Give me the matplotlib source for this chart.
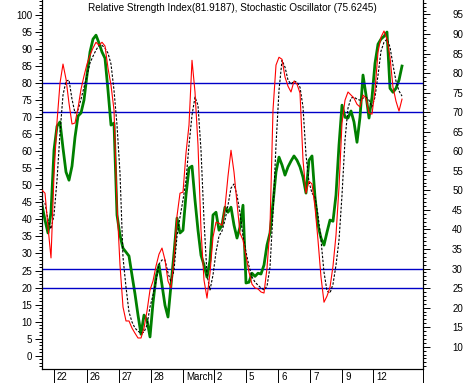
import matplotlib
matplotlib.use("Agg")
import matplotlib.pyplot as plt
from matplotlib.transforms import offset_copy
from matplotlib.ticker import MultipleLocator
import numpy as np

# RSI (right scale)
rsi = [46.2, 42.4, 39.1, 44.4, 60.3, 66.4, 67.5, 60.8, 54.7, 52.6,
       56.2, 63.6, 69.0, 69.8, 73.1, 79.5, 85.4, 88.7, 89.7, 87.7,
       85.4, 83.8, 75.6, 66.7, 67.2, 43.7, 38.5, 35.2, 34.2, 33.2,
       28.3, 23.5, 18.1, 13.2, 18.1, 16.8, 12.5, 21.2, 27.8, 30.9,
       25.8, 20.6, 17.6, 25.8, 33.9, 42.9, 39.1, 39.8, 48.8, 55.7,
       56.2, 47.5, 39.8, 33.4, 30.9, 27.8, 32.1, 43.7, 44.4, 39.8,
       41.1, 45.7, 44.4, 45.7, 41.1, 37.8, 40.6, 46.2, 26.3, 26.5,
       28.8, 28.0, 28.8, 28.6, 30.9, 36.0, 39.1, 46.7, 54.7, 58.5,
       56.5, 53.9, 56.0, 57.5, 58.8, 57.7, 56.0, 53.4, 49.3, 57.7,
       58.8, 48.3, 41.1, 37.8, 36.0, 39.3, 42.4, 42.1, 48.8, 61.6,
       71.8, 68.7, 68.5, 70.3, 67.5, 62.3, 68.7, 79.5, 74.4, 68.5,
       73.8, 82.5, 87.4, 88.7, 89.4, 90.5, 76.1, 75.1, 76.1, 78.2,
       81.8]

# stochastic %K (left scale)
stoch_k = [48.6, 47.7, 37.8, 28.7, 53.0, 68.6, 80.0, 85.6, 81.2, 74.1,
           68.0, 68.3, 72.7, 78.2, 82.1, 85.6, 88.2, 90.3, 92.0, 91.1,
           92.0, 90.9, 84.4, 79.4, 72.1, 44.2, 26.6, 14.3, 10.2, 10.2,
           8.1, 6.6, 5.2, 5.2, 8.1, 13.1, 19.3, 21.9, 26.3, 29.8,
           31.6, 28.1, 21.9, 19.9, 28.7, 41.0, 47.7, 48.0, 59.5, 67.7,
           86.7, 77.4, 61.8, 36.9, 22.2, 16.9, 24.3, 34.8, 39.2, 38.9,
           38.3, 43.6, 52.7, 60.3, 53.9, 44.8, 36.0, 33.9, 29.2, 24.5,
           21.0, 19.9, 19.6, 18.7, 18.4, 25.7, 37.8, 72.1, 85.3, 87.6,
           87.0, 81.8, 79.1, 77.4, 80.6, 79.7, 77.1, 57.4, 47.7, 51.2,
           50.4, 43.6, 33.9, 23.1, 15.7, 17.5, 20.1, 26.3, 35.4, 49.5,
           68.3, 75.0, 77.4, 76.5, 75.6, 73.8, 73.0, 76.5, 75.6, 71.2,
           70.9, 77.9, 89.1, 93.5, 95.3, 92.9, 87.6, 78.8, 74.7, 71.8,
           75.3]

# stochastic %D (left scale)
stoch_d = [45.7, 44.8, 39.8, 37.2, 41.3, 51.5, 65.3, 76.5, 80.6, 80.9,
           75.3, 71.2, 72.1, 75.3, 78.8, 82.3, 85.9, 87.9, 89.7, 91.1,
           91.1, 90.3, 88.8, 85.6, 77.9, 67.7, 53.6, 28.9, 20.1, 12.8,
           9.9, 8.1, 7.2, 6.6, 6.9, 9.0, 14.3, 17.8, 21.9, 26.9,
           28.1, 28.1, 24.3, 21.6, 25.1, 35.1, 40.7, 45.7, 51.5, 61.8,
           70.6, 75.9, 73.5, 60.3, 39.8, 23.7, 19.3, 23.7, 30.4, 35.1,
           36.6, 39.8, 44.2, 49.2, 50.4, 47.1, 41.9, 35.1, 30.4, 26.3,
           23.1, 21.6, 20.7, 19.9, 19.3, 20.4, 26.0, 41.9, 61.8, 77.9,
           86.7, 84.7, 80.9, 79.7, 80.6, 80.3, 78.8, 73.0, 58.9, 51.0,
           47.7, 46.6, 41.3, 33.9, 24.5, 19.0, 18.4, 21.0, 26.6, 33.9,
           47.1, 63.3, 72.7, 75.6, 75.9, 75.3, 75.0, 75.6, 75.9, 75.0,
           73.0, 75.9, 82.3, 89.4, 92.0, 92.9, 90.6, 85.3, 80.6, 77.7,
           76.2]

day_labels = ["22", "26", "27", "28", "March", "2", "5", "6", "7", "9", "12"]
day_starts = [4, 15, 25.67, 36.33, 47, 57.33, 68, 78.67, 89.33, 100, 110.33]

plt.rcParams['font.family'] = ['Liberation Sans', 'DejaVu Sans']
plt.rcParams['font.size'] = 7

fig = plt.figure(figsize=(4.65, 3.83), dpi=100)
ax = fig.add_axes([42 / 465, 14 / 383, 381 / 465, 369 / 383])
ax2 = ax.twinx()

x = np.arange(len(stoch_k))

for level in (80, 20):
    ax.axhline(level, color="#0000c8", lw=1.0, zorder=1)
for level in (70, 30):
    ax2.axhline(level, color="#0000c8", lw=1.0, zorder=1)

ax2.plot(x, rsi, color="#008000", lw=2.0, zorder=2)
ax.plot(x, stoch_d, color="black", lw=0.8, dashes=(2.2, 1.4), zorder=3)
ax.plot(x, stoch_k, color="#ff0000", lw=0.8, zorder=4)

ax.set_zorder(ax2.get_zorder() + 1)
ax.patch.set_visible(False)

ax.set_xlim(0, 127)
ax.set_ylim(-3.9, 104.4)
ax2.set_ylim(4.3, 98.7)

for a in (ax, ax2):
    a.spines['top'].set_visible(False)
    for s in a.spines.values():
        s.set_linewidth(0.8)

ax.yaxis.set_major_locator(MultipleLocator(5))
ax.yaxis.set_minor_locator(MultipleLocator(1))
ax2.yaxis.set_minor_locator(MultipleLocator(1))
ax2.set_yticks(np.arange(10, 100, 5))

ax.tick_params(axis='y', which='major', length=5, width=0.7, pad=2)
ax.tick_params(axis='y', which='minor', length=2, width=0.7)
ax2.tick_params(axis='y', which='major', length=5, width=0.7, pad=16)
ax2.tick_params(axis='y', which='minor', length=2, width=0.7)

ax.set_xticks(day_starts + [127])
ax.set_xticklabels([])
ax.tick_params(axis='x', which='major', length=10, width=0.7)

lab_tr = offset_copy(ax.get_xaxis_transform(), fig=fig, x=3, y=0, units='dots')
for pos, lab in zip(day_starts, day_labels):
    ax.text(pos, -0.022, lab, transform=lab_tr, ha='left', va='center', fontsize=7)

ax.text(0.5, 0.978, "Relative Strength Index(81.9187), Stochastic Oscillator (75.6245)",
        transform=ax.transAxes, ha='center', va='center', fontsize=7.2)

fig.savefig("out.png", dpi=100)
